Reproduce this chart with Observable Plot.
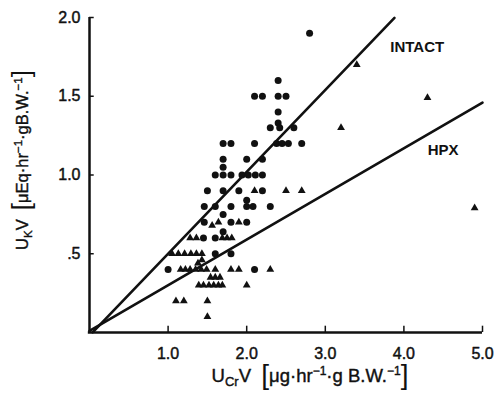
<!DOCTYPE html>
<html><head><meta charset="utf-8">
<script src="https://cdn.jsdelivr.net/npm/d3@7"></script>
<script src="https://cdn.jsdelivr.net/npm/@observablehq/plot@0.6"></script>
<style>html,body{margin:0;padding:0;background:#fff} svg{display:block}</style>
</head><body><div id="chart"></div>
<script>
// INTACT (circles)
const intactX = [2.8, 2.4, 2.1,2.2,2.4,2.5, 2.4, 2.4, 2.3,2.42,2.6,
  1.7,1.8,2.1,2.38,2.45,2.53,2.7, 1.7,2.0,2.2, 1.7,
  1.6,1.7,1.8,1.94,2.02,2.11,2.2, 1.5,1.7,1.9,2.2,
  1.46,1.6,1.8,2.0,2.08,2.3,2.0, 1.7, 1.46,1.8,2.0, 1.45,1.6,1.7, 1.6,1.8, 1.0,2.1];
const intactY = [1.9, 1.6, 1.5,1.5,1.5,1.5, 1.4, 1.33, 1.3,1.3,1.3,
  1.2,1.2,1.2,1.2,1.2,1.2,1.2, 1.1,1.1,1.1, 1.05,
  1.0,1.0,1.0,1.0,1.0,1.0,1.0, 0.9,0.9,0.9,0.9,
  0.8,0.8,0.8,0.8,0.8,0.8,0.84, 0.75, 0.7,0.7,0.7, 0.6,0.6,0.64, 0.5,0.5, 0.4,0.4];
// HPX (triangles)
const hpxX = [3.4,4.3,3.2,4.9, 2.1,2.5,2.7, 1.56,1.64,1.9,
  1.28,1.36,1.69,1.75,1.81, 1.05,1.13,1.21,1.29,1.36,1.43, 1.43,1.38,
  1.16,1.22,1.28,1.35,1.42,1.49,1.6,1.8,1.9,2.3, 1.54,1.6,1.66,
  1.39,1.45,1.52,1.58,1.64,1.69,2.0, 1.1,1.2,1.5, 1.5];
const hpxY = [1.7,1.49,1.3,0.79, 0.9,0.9,0.9, 0.68,0.7,0.7,
  0.6,0.6,0.6,0.6,0.6, 0.5,0.5,0.5,0.5,0.5,0.5, 0.46,0.44,
  0.4,0.4,0.4,0.4,0.4,0.4,0.4,0.4,0.4,0.4, 0.35,0.35,0.35,
  0.3,0.3,0.3,0.3,0.3,0.3,0.3, 0.2,0.2,0.2, 0.1];
// regression lines
const lineNames = ["INTACT", "HPX"];
const lineSlopes = [0.52, 0.29];
const lineIntercepts = [-0.02, 0.01];
const lineXStart = [0.04, 0.0];
const lineXEnd = [3.88, 5.0];
const lineLabelX = [4.17, 4.5];
const lineLabelY = [1.81, 1.155];
// ticks
const xTicks = [1, 2, 3, 4, 5];
const xTickLabels = ["1.0", "2.0", "3.0", "4.0", "5.0"];
const yTicks = [0.5, 1, 1.5, 2];
const yTickLabels = [".5", "1.0", "1.5", "2.0"];

const intact = intactX.map((x, i) => ({x, y: intactY[i]}));
const hpx = hpxX.map((x, i) => ({x, y: hpxY[i]}));
const lines = lineNames.flatMap((name, i) => [
  {name, x: lineXStart[i], y: lineSlopes[i] * lineXStart[i] + lineIntercepts[i]},
  {name, x: lineXEnd[i], y: lineSlopes[i] * lineXEnd[i] + lineIntercepts[i]}
]);
const labels = lineNames.map((name, i) => ({name, x: lineLabelX[i], y: lineLabelY[i]}));

const ink = "#111";
const font = "'Liberation Sans', Arial, Helvetica, sans-serif";

const plot = Plot.plot({
  width: 498, height: 406,
  marginLeft: 89, marginRight: 16, marginTop: 17, marginBottom: 74,
  x: {domain: [0, 5], axis: null},
  y: {domain: [0, 2], axis: null},
  style: {fontFamily: font, background: "white", color: ink},
  marks: [
    Plot.ruleX([0], {y1: 0, y2: 2, stroke: ink, strokeWidth: 2.5}),
    Plot.ruleY([0], {x1: -0.015, x2: 5, stroke: ink, strokeWidth: 2.5}),
    Plot.ruleX(xTicks, {x: d => d, y1: 0, y2: 0.04, stroke: ink, strokeWidth: 1.5}),
    Plot.ruleY(yTicks, {y: d => d, x1: 0, x2: 0.06, stroke: ink, strokeWidth: 1.5}),
    Plot.text(xTicks, {x: d => d, y: 0, dy: 21, text: (d, i) => xTickLabels[i], fontSize: 16, fill: ink, stroke: ink, strokeWidth: 0.45}),
    Plot.text(yTicks, {x: 0, y: d => d, dx: -9, textAnchor: "end", text: (d, i) => yTickLabels[i], fontSize: 16, fill: ink, stroke: ink, strokeWidth: 0.45}),
    Plot.line(lines, {x: "x", y: "y", z: "name", stroke: ink, strokeWidth: 2.6}),
    Plot.dot(intact, {x: "x", y: "y", r: 3.5, fill: ink, stroke: "none", symbol: "circle"}),
    Plot.dot(hpx, {x: "x", y: "y", r: 2.9, fill: ink, stroke: "none", symbol: "triangle"}),
    Plot.text(labels, {x: "x", y: "y", text: "name", fontSize: 15, fontWeight: "bold", fill: ink})
  ]
});

const svg = d3.select(plot);
// x-axis title
const xt = svg.append("text").attr("x", 310).attr("y", 382).attr("text-anchor", "middle")
  .attr("font-family", font).attr("font-size", 18.5).attr("fill", ink)
  .attr("stroke", ink).attr("stroke-width", 0.4);
xt.append("tspan").text("U");
xt.append("tspan").attr("font-size", 13).attr("dy", 4).text("Cr");
xt.append("tspan").attr("dy", -4).text("V  ");
xt.append("tspan").attr("font-size", 28).attr("dy", 2).attr("stroke-width", 0).text("[");
xt.append("tspan").attr("dy", -2).text("μg·hr");
xt.append("tspan").attr("font-size", 12).attr("dy", -7).text("−1");
xt.append("tspan").attr("dy", 7).text("·g B.W.");
xt.append("tspan").attr("font-size", 12).attr("dy", -7).text("−1");
xt.append("tspan").attr("font-size", 28).attr("dy", 9).attr("stroke-width", 0).text("]");

// y-axis title
const yt = svg.append("text").attr("transform", "translate(28,160) rotate(-90)").attr("text-anchor", "middle")
  .attr("font-family", font).attr("font-size", 16.5).attr("fill", ink)
  .attr("stroke", ink).attr("stroke-width", 0.4);
yt.append("tspan").text("U");
yt.append("tspan").attr("font-size", 11.5).attr("dy", 4).text("K");
yt.append("tspan").attr("dy", -4).text("V  ");
yt.append("tspan").attr("font-size", 26).attr("dy", 2).attr("stroke-width", 0).text("[");
yt.append("tspan").attr("dy", -2).text("μEq·hr");
yt.append("tspan").attr("font-size", 11.5).attr("dy", -6).text("−1");
yt.append("tspan").attr("dy", 6).text("·gB.W.");
yt.append("tspan").attr("font-size", 11.5).attr("dy", -6).text("−1");
yt.append("tspan").attr("font-size", 26).attr("dy", 8).attr("stroke-width", 0).text("]");

document.getElementById("chart").appendChild(plot);
</script>
</body></html>
